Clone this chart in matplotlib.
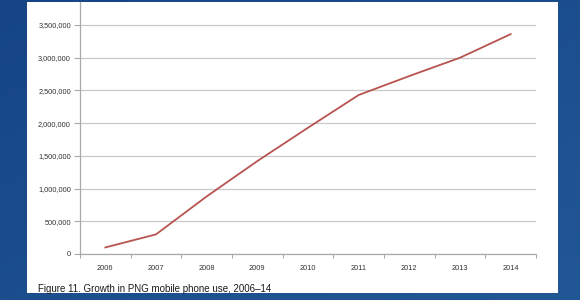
import matplotlib
matplotlib.use("Agg")
import matplotlib.pyplot as plt
import numpy as np
from matplotlib.patches import Rectangle
from matplotlib.ticker import FuncFormatter

years = ["2006", "2007", "2008", "2009", "2010", "2011", "2012", "2013", "2014"]
users = [100000, 300000, 880000, 1420000, 1930000, 2430000, 2720000, 3000000, 3360000]
yticks = [0, 500000, 1000000, 1500000, 2000000, 2500000, 3000000, 3500000]
caption = "Figure 11. Growth in PNG mobile phone use, 2006\u201314"

W, H = 580, 300
fig = plt.figure(figsize=(W / 100, H / 100), dpi=100)

# blue gradient background
bg = fig.add_axes([0, 0, 1, 1])
bg.set_xlim(0, W)
bg.set_ylim(H, 0)
bg.axis("off")
gx = np.linspace(0, 1, 200)
gy = np.linspace(0, 1, 100)
X, Y = np.meshgrid(gx, gy)
t = 0.5 * X + 0.5 * Y
c0 = np.array([0x15, 0x45, 0x84]) / 255
c1 = np.array([0x22, 0x57, 0x96]) / 255
img = c0[None, None, :] * (1 - t[..., None]) + c1[None, None, :] * t[..., None]
bg.imshow(img, extent=[0, W, H, 0], aspect="auto", zorder=0)
bg.add_patch(Rectangle((27, 1.5), 531, 291.5, facecolor="white", edgecolor="none", zorder=1))
bg.text(38, 291.5, caption, fontsize=7.0, family="Liberation Sans", color="#1a1a1a",
        ha="left", va="baseline", zorder=2)

# chart axes
x0, x1 = 80, 536
ybot, ytop = 254, 1.5
ax = fig.add_axes([x0 / W, 1 - ybot / H, (x1 - x0) / W, (ybot - ytop) / H])
ax.patch.set_alpha(0)
px_per_unit = (254 - 25) / 3500000
ymax = (ybot - ytop) / px_per_unit
ax.set_ylim(0, ymax)
ax.set_xlim(0, len(years))

xs = np.arange(len(years)) + 0.5
ax.plot(xs, users, color="#b85450", lw=1.3, solid_joinstyle="round", zorder=3)

ax.set_yticks(yticks)
ax.yaxis.set_major_formatter(FuncFormatter(lambda v, p: f"{int(v):,}"))
ax.grid(axis="y", color="#c9c9c9", lw=0.9)
ax.set_axisbelow(True)

ax.set_xticks(np.arange(len(years) + 1))
ax.set_xticklabels([])
ax.set_xticks(xs, minor=True)
ax.set_xticklabels(years, minor=True)
ax.tick_params(axis="x", which="minor", length=0, pad=8)
ax.tick_params(axis="x", which="major", length=3, color="#aaaaaa", width=0.8)
ax.tick_params(axis="y", length=4, color="#aaaaaa", width=0.8, pad=2.5)
for lab in ax.get_xticklabels(minor=True) + ax.get_yticklabels():
    lab.set_fontsize(5.3)
    lab.set_family("Liberation Sans")
    lab.set_color("#333333")

for s in ["top", "right"]:
    ax.spines[s].set_visible(False)
for s in ["left", "bottom"]:
    ax.spines[s].set_color("#aaaaaa")
    ax.spines[s].set_linewidth(0.9)

fig.savefig("out.png", dpi=100)
